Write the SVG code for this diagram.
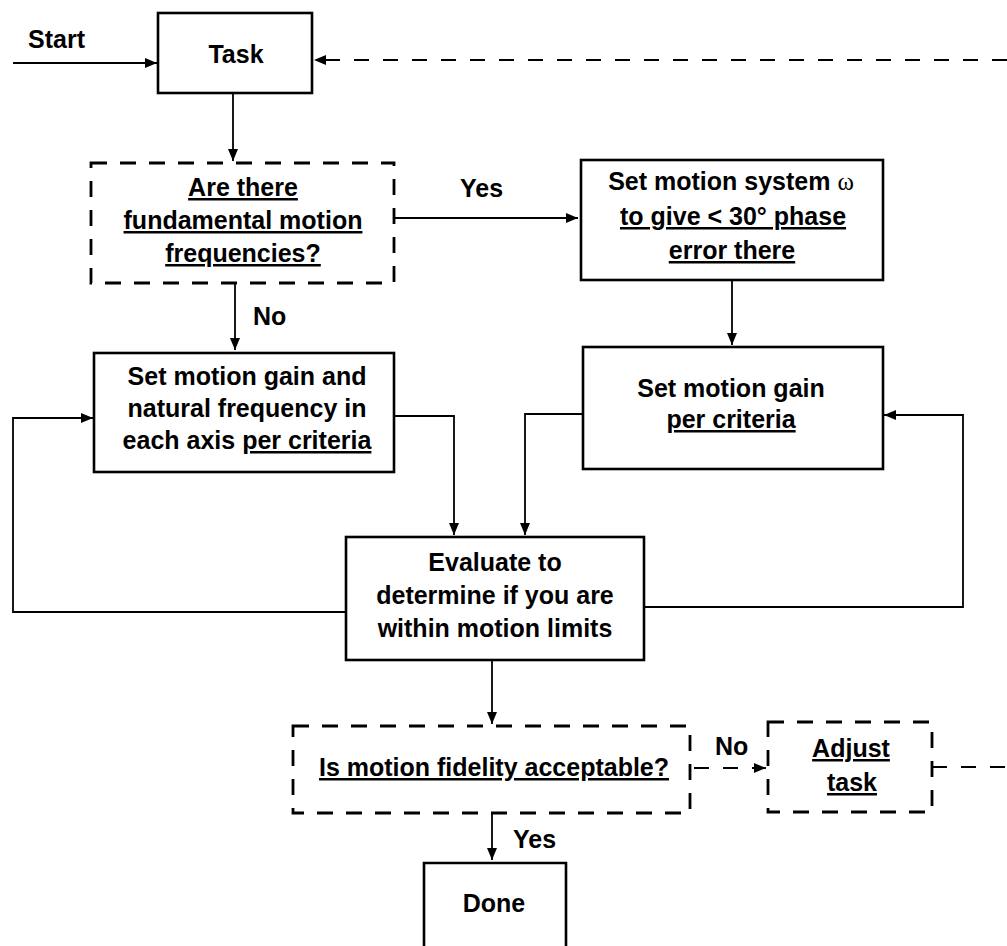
<svg xmlns="http://www.w3.org/2000/svg" width="1007" height="946" viewBox="0 0 1007 946">
<style>
text{font-family:"Liberation Sans",Arial,sans-serif;font-weight:bold;font-size:25px;fill:#000}
.c{text-anchor:middle}
.u{text-decoration:underline}
.box{fill:none;stroke:#000;stroke-width:2.6}
.dbox{fill:none;stroke:#000;stroke-width:2.8;stroke-dasharray:16 13}
.ln{fill:none;stroke:#000;stroke-width:1.8}
.dl{fill:none;stroke:#000;stroke-width:1.8;stroke-dasharray:15 14}
.om{font-family:"Liberation Serif","Times New Roman",serif;font-weight:normal}
</style>
<defs>
<marker id="ah" markerUnits="userSpaceOnUse" markerWidth="12" markerHeight="10" refX="12" refY="5" orient="auto">
<path d="M0,0 L12,5 L0,10 z" fill="#000"/>
</marker>
</defs>
<rect width="1007" height="946" fill="#fff"/>
<g id="connectors">
<path class="ln" d="M13,63 H157" marker-end="url(#ah)"/>
<path class="dl" d="M1007,60 H314" marker-end="url(#ah)"/>
<path class="ln" d="M233,93 V161" marker-end="url(#ah)"/>
<path class="ln" d="M394,218 H578" marker-end="url(#ah)"/>
<path class="ln" d="M235,283 V350" marker-end="url(#ah)"/>
<path class="ln" d="M732,280 V345" marker-end="url(#ah)"/>
<path class="ln" d="M394,416 H454 V535" marker-end="url(#ah)"/>
<path class="ln" d="M583,414 H525 V535" marker-end="url(#ah)"/>
<path class="ln" d="M346,612 H13 V418 H93" marker-end="url(#ah)"/>
<path class="ln" d="M644,607 H963 V415 H884" marker-end="url(#ah)"/>
<path class="ln" d="M492,660 V724" marker-end="url(#ah)"/>
<path class="dl" d="M694,768 H766" marker-end="url(#ah)"/>
<path class="dl" d="M932,767 H1007"/>
<path class="ln" d="M492,813 V860" marker-end="url(#ah)"/>
</g>
<g id="labels">
<text x="28" y="48">Start</text>
<text x="460" y="197">Yes</text>
<text x="253" y="325">No</text>
<text x="715" y="755">No</text>
<text x="513" y="848">Yes</text>
</g>
<g id="task">
<rect class="box" x="158" y="13" width="154" height="80"/>
<text class="c" x="236" y="63">Task</text>
</g>
<g id="fundamental">
<rect class="dbox" x="91" y="163" width="303" height="120"/>
<text class="c u" x="243" y="196">Are there</text>
<text class="c u" x="243" y="229">fundamental motion</text>
<text class="c u" x="243" y="262">frequencies?</text>
</g>
<g id="setsystem">
<rect class="box" x="581" y="160" width="302" height="120"/>
<text class="c" x="731" y="190">Set motion system <tspan class="om">ω</tspan></text>
<text class="c u" x="733" y="225">to give &lt; 30° phase</text>
<text class="c u" x="732" y="259">error there</text>
</g>
<g id="setgainnat">
<rect class="box" x="94" y="353" width="300" height="119"/>
<text class="c" x="247" y="385">Set motion gain and</text>
<text class="c" x="247" y="417">natural frequency in</text>
<text class="c" x="247" y="449">each axis <tspan class="u">per criteria</tspan></text>
</g>
<g id="setgain">
<rect class="box" x="583" y="347" width="300" height="122"/>
<text class="c" x="731" y="397">Set motion gain</text>
<text class="c u" x="731" y="428">per criteria</text>
</g>
<g id="evaluate">
<rect class="box" x="346" y="537" width="298" height="123"/>
<text class="c" x="495" y="571">Evaluate to</text>
<text class="c" x="495" y="604">determine if you are</text>
<text class="c" x="495" y="637">within motion limits</text>
</g>
<g id="fidelity">
<rect class="dbox" x="293" y="726" width="397" height="87"/>
<text class="c u" x="494" y="776">Is motion fidelity acceptable?</text>
</g>
<g id="adjust">
<rect class="dbox" x="768" y="722" width="164" height="90"/>
<text class="c u" x="851" y="757">Adjust</text>
<text class="c u" x="852" y="791">task</text>
</g>
<g id="done">
<path class="box" d="M424,948 V863 H566 V948"/>
<text class="c" x="494" y="912">Done</text>
</g>
</svg>
